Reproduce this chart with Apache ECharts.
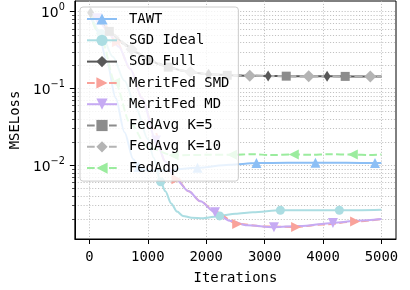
<!DOCTYPE html>
<html>
<head>
<meta charset="utf-8">
<script src="https://cdn.jsdelivr.net/npm/echarts@6/dist/echarts.min.js"></script>
<style>
html, body { margin: 0; padding: 0; background: #fff; }
#chart { width: 410px; height: 290px; }
</style>
</head>
<body>
<div id="chart"></div>
<script>
// iterations / loss; *Marks = iterations where a marker is drawn
const tawtX = [0, 150, 300, 450, 600, 750, 840, 1000, 1300, 1850, 2400, 2860, 3400, 3870, 4400, 4890, 5000];
const tawtY = [1.0, 0.55, 0.22, 0.075, 0.027, 0.012, 0.0095, 0.0086, 0.0086, 0.0093, 0.0102, 0.0107, 0.0108, 0.0108, 0.0108, 0.0107, 0.0107];
const tawtMarks = [840, 1850, 2860, 3870, 4890];

const idealX = [0, 200, 400, 600, 800, 1000, 1100, 1220, 1300, 1400, 1500, 1600, 1750, 1950, 2230, 2500, 2800, 3270, 3800, 4280, 5000];
const idealY = [1.0, 0.52, 0.26, 0.126, 0.055, 0.022, 0.0126, 0.0061, 0.0046, 0.0032, 0.0025, 0.0022, 0.00208, 0.00205, 0.0022, 0.00235, 0.00245, 0.0026, 0.0026, 0.0026, 0.00265];
const idealMarks = [200, 1220, 2230, 3270, 4280];

const fullX = [0, 20, 200, 400, 600, 800, 1030, 1200, 1400, 1600, 1800, 2040, 2500, 3060, 3500, 4070, 4500, 5000];
const fullY = [1.0, 0.97, 0.701, 0.504, 0.377, 0.295, 0.236, 0.207, 0.185, 0.171, 0.161, 0.154, 0.148, 0.146, 0.145, 0.145, 0.144, 0.144];
const fullMarks = [20, 1030, 2040, 3060, 4070];

const smdX = [0, 200, 470, 700, 900, 1100, 1300, 1490, 1700, 1900, 2150, 2530, 3000, 3540, 4000, 4550, 5000];
const smdY = [1.0, 0.78, 0.40, 0.18, 0.075, 0.030, 0.0112, 0.0066, 0.0046, 0.0034, 0.0025, 0.00173, 0.0016, 0.00158, 0.0017, 0.00186, 0.0020];
const smdMarks = [470, 1490, 2530, 3540, 4550];

const mdX = [0, 130, 300, 500, 700, 900, 1140, 1300, 1480, 1700, 1900, 2150, 2400, 2700, 3160, 3600, 4170, 4600, 5000];
const mdY = [1.0, 0.82, 0.58, 0.35, 0.18, 0.075, 0.021, 0.0112, 0.0066, 0.0046, 0.0034, 0.00245, 0.0019, 0.00166, 0.00157, 0.00162, 0.00178, 0.0019, 0.0020];
const mdMarks = [130, 1140, 2150, 3160, 4170];

const k5X = [0, 200, 340, 500, 700, 900, 1100, 1350, 1600, 1800, 2000, 2360, 2800, 3370, 3800, 4380, 5000];
const k5Y = [1.0, 0.701, 0.555, 0.434, 0.332, 0.266, 0.223, 0.190, 0.171, 0.161, 0.155, 0.149, 0.147, 0.145, 0.145, 0.144, 0.144];
const k5Marks = [340, 1350, 2360, 3370, 4380];

const k10X = [0, 200, 400, 720, 1000, 1300, 1500, 1730, 2000, 2300, 2745, 3200, 3755, 4300, 4810, 5000];
const k10Y = [1.0, 0.701, 0.504, 0.324, 0.242, 0.195, 0.177, 0.164, 0.155, 0.150, 0.147, 0.145, 0.145, 0.144, 0.144, 0.144];
const k10Marks = [720, 1730, 2745, 3755, 4810];

const adpX = [0, 200, 440, 700, 1000, 1440, 2000, 2440, 2800, 3100, 3500, 3800, 4100, 4510, 4800, 5000];
const adpY = [1.0, 0.45, 0.12, 0.035, 0.017, 0.0135, 0.0137, 0.0137, 0.0140, 0.0136, 0.0139, 0.0137, 0.0140, 0.0138, 0.0136, 0.0139];
const adpMarks = [440, 1440, 2440, 3500, 4510];

const xTicks = [0, 1000, 2000, 3000, 4000, 5000];
const yTicks = [0.01, 0.1, 1];
const yMinor = [0.002, 0.003, 0.004, 0.005, 0.006, 0.007, 0.008, 0.009,
                0.02, 0.03, 0.04, 0.05, 0.06, 0.07, 0.08, 0.09,
                0.2, 0.3, 0.4, 0.5, 0.6, 0.7, 0.8, 0.9];

const FONT = 'DejaVu Sans Mono';
const gridLine = { type: [1.1, 1.8], color: '#b0b0b0', width: 0.8 };

function makeSeries(name, xs, ys, marks, color, symbol, size, rotate, dashed) {
    return {
        name: name,
        type: 'line',
        symbol: symbol,
        symbolSize: size,
        symbolRotate: rotate,
        showSymbol: true,
        showAllSymbol: true,
        smooth: 0.3,
        smoothMonotone: 'x',
        color: color,
        lineStyle: { color: color, width: 2, type: dashed ? [7.7, 3.3] : 'solid' },
        itemStyle: { color: color },
        data: xs.map((x, i) => marks.includes(x) ? [x, ys[i]] : { value: [x, ys[i]], symbol: 'none' })
    };
}

const chart = echarts.init(document.getElementById('chart'));
chart.setOption({
    animation: false,
    backgroundColor: '#fff',
    textStyle: { fontFamily: FONT },
    grid: { left: 73, right: 14, top: 1, bottom: 51, show: true, borderColor: '#000', borderWidth: 1 },
    legend: {
        orient: 'vertical',
        left: 80,
        top: 7,
        padding: [5, 9, 6, 6],
        itemWidth: 30,
        itemHeight: 14,
        itemGap: 7.3,
        backgroundColor: 'rgba(255,255,255,0.8)',
        borderColor: '#cccccc',
        borderWidth: 1,
        borderRadius: 3,
        textStyle: { fontFamily: FONT, fontSize: 13.9, color: '#000', padding: [0, 0, 0, 7] },
        data: ['TAWT', 'SGD Ideal', 'SGD Full', 'MeritFed SMD', 'MeritFed MD', 'FedAvg K=5', 'FedAvg K=10', 'FedAdp']
    },
    xAxis: {
        type: 'value',
        min: -250,
        max: 5250,
        name: 'Iterations',
        nameLocation: 'middle',
        nameGap: 32,
        nameTextStyle: { fontFamily: FONT, fontSize: 13.9, color: '#000' },
        axisLine: { onZero: false, lineStyle: { color: '#000', width: 1 } },
        axisTick: { length: 5, lineStyle: { color: '#000' }, customValues: xTicks },
        axisLabel: {
            fontFamily: FONT, fontSize: 13.9, color: '#000', margin: 11, customValues: xTicks,
            formatter: function (v) { return String(v); }
        },
        splitLine: { show: true, lineStyle: gridLine }
    },
    yAxis: [{
        type: 'log',
        logBase: 10,
        min: 0.0011,
        max: 1.38,
        name: 'MSELoss',
        nameLocation: 'middle',
        nameGap: 43,
        nameTextStyle: { fontFamily: FONT, fontSize: 13.9, color: '#000' },
        axisLine: { show: true, onZero: false, lineStyle: { color: '#000', width: 1 } },
        axisTick: { show: true, length: 5, lineStyle: { color: '#000' }, customValues: yTicks },
        axisLabel: {
            margin: 10,
            customValues: yTicks,
            formatter: function (v) {
                const e = Math.round(Math.log10(v));
                return '{b|10}{s|' + (e < 0 ? '\u2212' + (-e) : e) + '}';
            },
            rich: {
                b: { fontFamily: 'DejaVu Sans', fontSize: 13.9, color: '#000', verticalAlign: 'bottom' },
                s: { fontFamily: 'DejaVu Sans', fontSize: 9.7, color: '#000', verticalAlign: 'top', padding: [0, 0, 8, 0] }
            }
        },
        splitLine: { show: true, lineStyle: gridLine }
    }, {
        type: 'log',
        logBase: 10,
        min: 0.0011,
        max: 1.38,
        position: 'left',
        axisLine: { show: false, onZero: false },
        axisTick: { show: true, length: 2.8, lineStyle: { color: '#000', width: 0.7 }, customValues: yMinor },
        axisLabel: { show: false, customValues: yMinor },
        splitLine: { show: true, lineStyle: gridLine }
    }],
    series: [
        makeSeries('TAWT', tawtX, tawtY, tawtMarks, '#8cbff5', 'triangle', 10, 0, false),
        makeSeries('SGD Ideal', idealX, idealY, idealMarks, '#abdde2', 'circle', 9, 0, false),
        makeSeries('SGD Full', fullX, fullY, fullMarks, '#585858', 'diamond', [7, 11], 0, false),
        makeSeries('MeritFed SMD', smdX, smdY, smdMarks, '#f9a29a', 'triangle', 10, -90, true),
        makeSeries('MeritFed MD', mdX, mdY, mdMarks, '#c6aaf3', 'triangle', 10, 180, false),
        makeSeries('FedAvg K=5', k5X, k5Y, k5Marks, '#8c8c8c', 'rect', 9, 0, true),
        makeSeries('FedAvg K=10', k10X, k10Y, k10Marks, '#b4b4b4', 'diamond', 12, 0, true),
        makeSeries('FedAdp', adpX, adpY, adpMarks, '#9bec9e', 'triangle', 10, 90, true)
    ]
});
</script>
</body>
</html>
